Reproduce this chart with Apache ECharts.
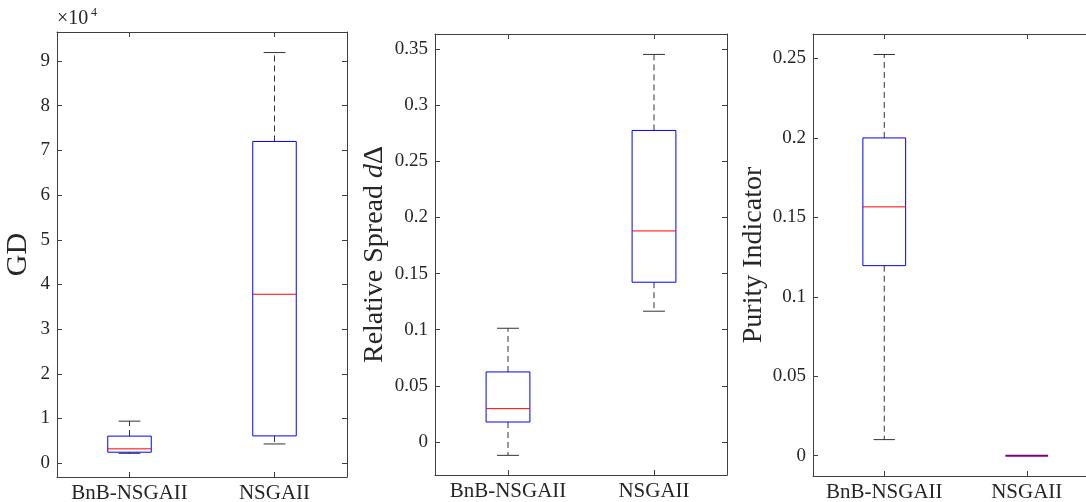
<!DOCTYPE html>
<html>
<head>
<meta charset="utf-8">
<script src="https://cdn.jsdelivr.net/npm/echarts@6/dist/echarts.min.js"></script>
<style>html,body{margin:0;padding:0;background:#fff}#c{width:1086px;height:502px}</style>
</head>
<body>
<div id="c"></div>
<script>
// ---- data ----
const categories = ['BnB-NSGAII', 'NSGAII'];
// each row: [lower whisker, Q1, median, Q3, upper whisker]
const gdStats = [[2200, 2450, 3200, 6050, 9400], [4300, 6100, 37800, 72000, 91900]];
const spreadStats = [[-0.0119, 0.0178, 0.0297, 0.0624, 0.1013], [0.1165, 0.1423, 0.188, 0.2775, 0.3452]];
const purityStats = [[0.0101, 0.1196, 0.1566, 0.2, 0.2525], [0, 0, 0, 0, 0]];
const gdTicks = [0, 10000, 20000, 30000, 40000, 50000, 60000, 70000, 80000, 90000];
const spreadTicks = [0, 0.05, 0.1, 0.15, 0.2, 0.25, 0.3, 0.35];
const purityTicks = [0, 0.05, 0.1, 0.15, 0.2, 0.25];

const FONT = 'Liberation Serif';
const TXT = '#262626';
const AX = '#404040';

const grids = [
  {left: 57, top: 32, width: 290, height: 445, outerBoundsMode: 'none', containLabel: false},
  {left: 435, top: 34, width: 292, height: 441, outerBoundsMode: 'none', containLabel: false},
  {left: 813, top: 34, width: 285, height: 442, outerBoundsMode: 'none', containLabel: false}
];

function xAxes(i) {
  return [
    {type: 'category', gridIndex: i, data: categories, position: 'bottom',
     axisLine: {show: true, onZero: false, lineStyle: {color: AX, width: 1}},
     axisTick: {show: true, inside: true, length: 5, interval: 0, alignWithLabel: true, lineStyle: {color: AX}},
     axisLabel: {show: true, interval: 0, margin: 6, fontFamily: FONT, fontSize: 21, color: TXT, hideOverlap: false},
     splitLine: {show: false}},
    {type: 'category', gridIndex: i, data: categories, position: 'top',
     axisLine: {show: true, onZero: false, lineStyle: {color: AX, width: 1}},
     axisTick: {show: true, inside: true, length: 5, interval: 0, alignWithLabel: true, lineStyle: {color: AX}},
     axisLabel: {show: false}, splitLine: {show: false}}
  ];
}
function yAxes(i, min, max, ticks, fmt, name, nameGap, nameSize, rich) {
  return [
    {type: 'value', gridIndex: i, min: min, max: max, position: 'left',
     name: name, nameLocation: 'middle', nameGap: nameGap, nameRotate: 90,
     nameTextStyle: {fontFamily: FONT, fontSize: nameSize, color: TXT, rich: rich},
     axisLine: {show: true, onZero: false, lineStyle: {color: AX, width: 1}},
     axisTick: {show: true, inside: true, length: 5, customValues: ticks, lineStyle: {color: AX}},
     axisLabel: {show: true, margin: 7, customValues: ticks, formatter: fmt, fontFamily: FONT, fontSize: 19, color: TXT},
     splitLine: {show: false}},
    {type: 'value', gridIndex: i, min: min, max: max, position: 'right',
     axisLine: {show: true, onZero: false, lineStyle: {color: AX, width: 1}},
     axisTick: {show: true, inside: true, length: 5, customValues: ticks, lineStyle: {color: AX}},
     axisLabel: {show: false}, splitLine: {show: false}}
  ];
}

function renderBox(params, api) {
  const x = api.value(0);
  const lo = api.coord([x, api.value(1)]);
  const q1 = api.coord([x, api.value(2)]);
  const md = api.coord([x, api.value(3)]);
  const q3 = api.coord([x, api.value(4)]);
  const hi = api.coord([x, api.value(5)]);
  const band = api.size([1, 0])[0];
  const bw = band * 0.3;
  const cw = bw / 4;
  const cx = lo[0];
  const flat = Math.abs(q3[1] - q1[1]) < 0.5;
  const wl = {stroke: '#333', lineWidth: 1, lineDash: [6, 4]};
  const cl = {stroke: '#333', lineWidth: 1};
  const children = [];
  if (!flat) {
    children.push(
      {type: 'line', shape: {x1: cx, y1: q3[1], x2: cx, y2: hi[1]}, style: wl},
      {type: 'line', shape: {x1: cx, y1: q1[1], x2: cx, y2: lo[1]}, style: wl},
      {type: 'line', shape: {x1: cx - cw, y1: hi[1], x2: cx + cw, y2: hi[1]}, style: cl},
      {type: 'line', shape: {x1: cx - cw, y1: lo[1], x2: cx + cw, y2: lo[1]}, style: cl},
      {type: 'rect', shape: {x: cx - bw / 2, y: q3[1], width: bw, height: q1[1] - q3[1]},
       style: {fill: 'none', stroke: '#0000ff', lineWidth: 1}},
      {type: 'line', shape: {x1: cx - bw / 2, y1: md[1], x2: cx + bw / 2, y2: md[1]},
       style: {stroke: '#ff0000', lineWidth: 1}}
    );
  } else {
    children.push(
      {type: 'line', shape: {x1: cx - bw / 2, y1: md[1], x2: cx + bw / 2, y2: md[1]},
       style: {stroke: '#800080', lineWidth: 2}}
    );
  }
  return {type: 'group', children: children};
}
function toData(stats) {
  return stats.map((s, i) => [i].concat(s));
}

const option = {
  animation: false,
  backgroundColor: '#fff',
  grid: grids,
  xAxis: [].concat(xAxes(0), xAxes(1), xAxes(2)),
  yAxis: [].concat(
    yAxes(0, -3100, 96500, gdTicks, v => String(Math.round(v / 10000)), 'GD', 24, 30),
    yAxes(1, -0.0294, 0.3634, spreadTicks, v => String(v),
      '{n|Relative Spread }{i|d}{n|Δ}', 46, 28,
      {n: {fontFamily: FONT, fontSize: 28, color: TXT}, i: {fontFamily: FONT, fontStyle: 'italic', fontSize: 28, color: TXT}}),
    yAxes(2, -0.0128, 0.2654, purityTicks, v => String(v), 'Purity Indicator', 45, 28)
  ),
  graphic: [
    {type: 'text', left: 57, top: 9, style: {text: '×10', fontFamily: FONT, fontSize: 20, fill: TXT}},
    {type: 'text', left: 91, top: 7, style: {text: '4', fontFamily: FONT, fontSize: 12, fill: TXT}}
  ],
  series: [
    {type: 'custom', xAxisIndex: 0, yAxisIndex: 0, renderItem: renderBox, data: toData(gdStats), clip: false},
    {type: 'custom', xAxisIndex: 2, yAxisIndex: 2, renderItem: renderBox, data: toData(spreadStats), clip: false},
    {type: 'custom', xAxisIndex: 4, yAxisIndex: 4, renderItem: renderBox, data: toData(purityStats), clip: false}
  ]
};
const chart = echarts.init(document.getElementById('c'), null, {renderer: 'canvas'});
chart.setOption(option);
</script>
</body>
</html>
